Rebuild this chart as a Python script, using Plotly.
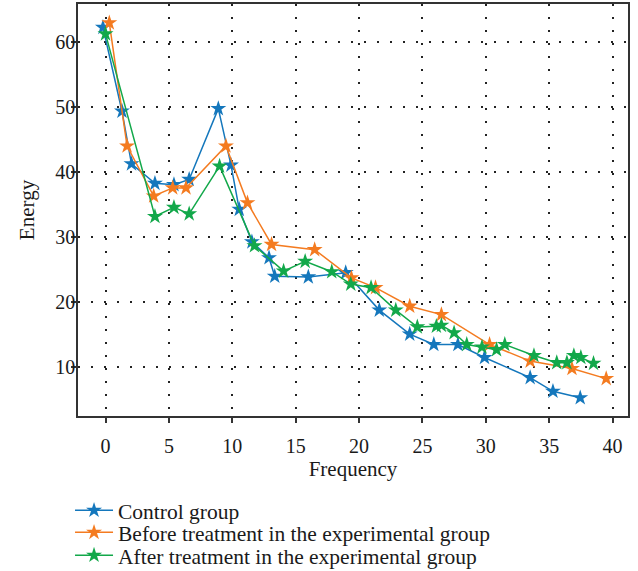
import plotly.graph_objects as go

# Data
control_x = [-0.2, 1.3, 2.05, 3.9, 5.4, 6.6, 8.9, 9.9, 10.55, 11.55, 12.9, 13.35, 16.0, 18.95,
             21.6, 24.0, 25.9, 27.8, 29.9, 33.5, 35.3, 37.45]
control_y = [62.3, 49.4, 41.3, 38.3, 38.1, 38.9, 49.8, 41.1, 34.3, 29.3, 26.85, 24.0, 23.9, 24.55,
             18.8, 15.1, 13.5, 13.5, 11.5, 8.4, 6.3, 5.3]

before_x = [0.3, 1.7, 3.8, 5.3, 6.35, 9.5, 11.2, 13.1, 16.5, 19.4, 21.3, 24.0, 26.5, 30.3,
            33.5, 36.8, 39.5]
before_y = [63.0, 44.05, 36.35, 37.6, 37.6, 44.05, 35.3, 28.9, 28.1, 23.75, 22.25, 19.4, 18.1,
            13.5, 10.95, 9.8, 8.25]

after_x = [0.0, 3.9, 5.4, 6.6, 9.0, 11.75, 14.05, 15.75, 17.85, 19.35, 20.95, 22.9, 24.6, 26.1,
           26.5, 27.5, 28.5, 29.7, 30.85, 31.5, 33.8, 35.6, 36.4, 36.95, 37.5, 38.5]
after_y = [61.3, 33.2, 34.6, 33.6, 40.95, 28.7, 24.8, 26.3, 24.7, 22.8, 22.25, 18.8, 16.2, 16.3,
           16.45, 15.3, 13.5, 13.1, 12.7, 13.5, 11.8, 10.7, 10.7, 11.8, 11.5, 10.6]

names = ["Control group",
         "Before treatment in the experimental group",
         "After treatment in the experimental group"]
colors = ["#1477BC", "#F47B20", "#12A84A"]
legend_ids = ["legend", "legend2", "legend3"]

x_ticks = [0, 5, 10, 15, 20, 25, 30, 35, 40]
y_ticks = [10, 20, 30, 40, 50, 60]

FONT = "Liberation Serif"

fig = go.Figure()
for xs, ys, nm, c, lg in zip([control_x, before_x, after_x], [control_y, before_y, after_y],
                             names, colors, legend_ids):
    fig.add_trace(go.Scatter(
        x=xs, y=ys, mode="lines+markers", name=nm, legend=lg,
        line=dict(color=c, width=1.5),
        marker=dict(symbol="star", size=12, color=c, line=dict(width=0)),
    ))

axis_common = dict(
    showline=True, linecolor="#333333", linewidth=1.5, mirror=True,
    ticks="outside", ticklen=5, tickwidth=1.5, tickcolor="#333333",
    showgrid=True, gridcolor="#222222", gridwidth=1.5, griddash="1.5px,11.5px",
    zeroline=False, automargin=False,
    tickfont=dict(family=FONT, size=20, color="#1a1a1a"),
)

leg_common = dict(x=-0.0145, xanchor="left", yanchor="middle",
                  font=dict(family=FONT, size=21.5, color="#1a1a1a"),
                  bgcolor="rgba(0,0,0,0)", itemwidth=38)

fig.update_layout(
    width=638, height=571,
    margin=dict(l=78, r=10, t=4, b=155, autoexpand=False),
    paper_bgcolor="white", plot_bgcolor="white",
    font=dict(family=FONT, size=20, color="#1a1a1a"),
    xaxis=dict(range=[-2.17, 41.22], tickvals=x_ticks, ticklabelstandoff=6,
               title=dict(text="Frequency", font=dict(family=FONT, size=21), standoff=6),
               **axis_common),
    yaxis=dict(range=[2.5, 65.9], tickvals=y_ticks, ticklabelstandoff=-8,
               title=dict(text="Energy", font=dict(family=FONT, size=21), standoff=15),
               **axis_common),
    legend=dict(y=-0.229, **leg_common),
    legend2=dict(y=-0.2825, **leg_common),
    legend3=dict(y=-0.338, **leg_common),
    showlegend=True,
)

fig.write_html("out.html", config={"displayModeBar": False},
               post_script="document.body.style.margin='0';document.body.style.padding='0';")
